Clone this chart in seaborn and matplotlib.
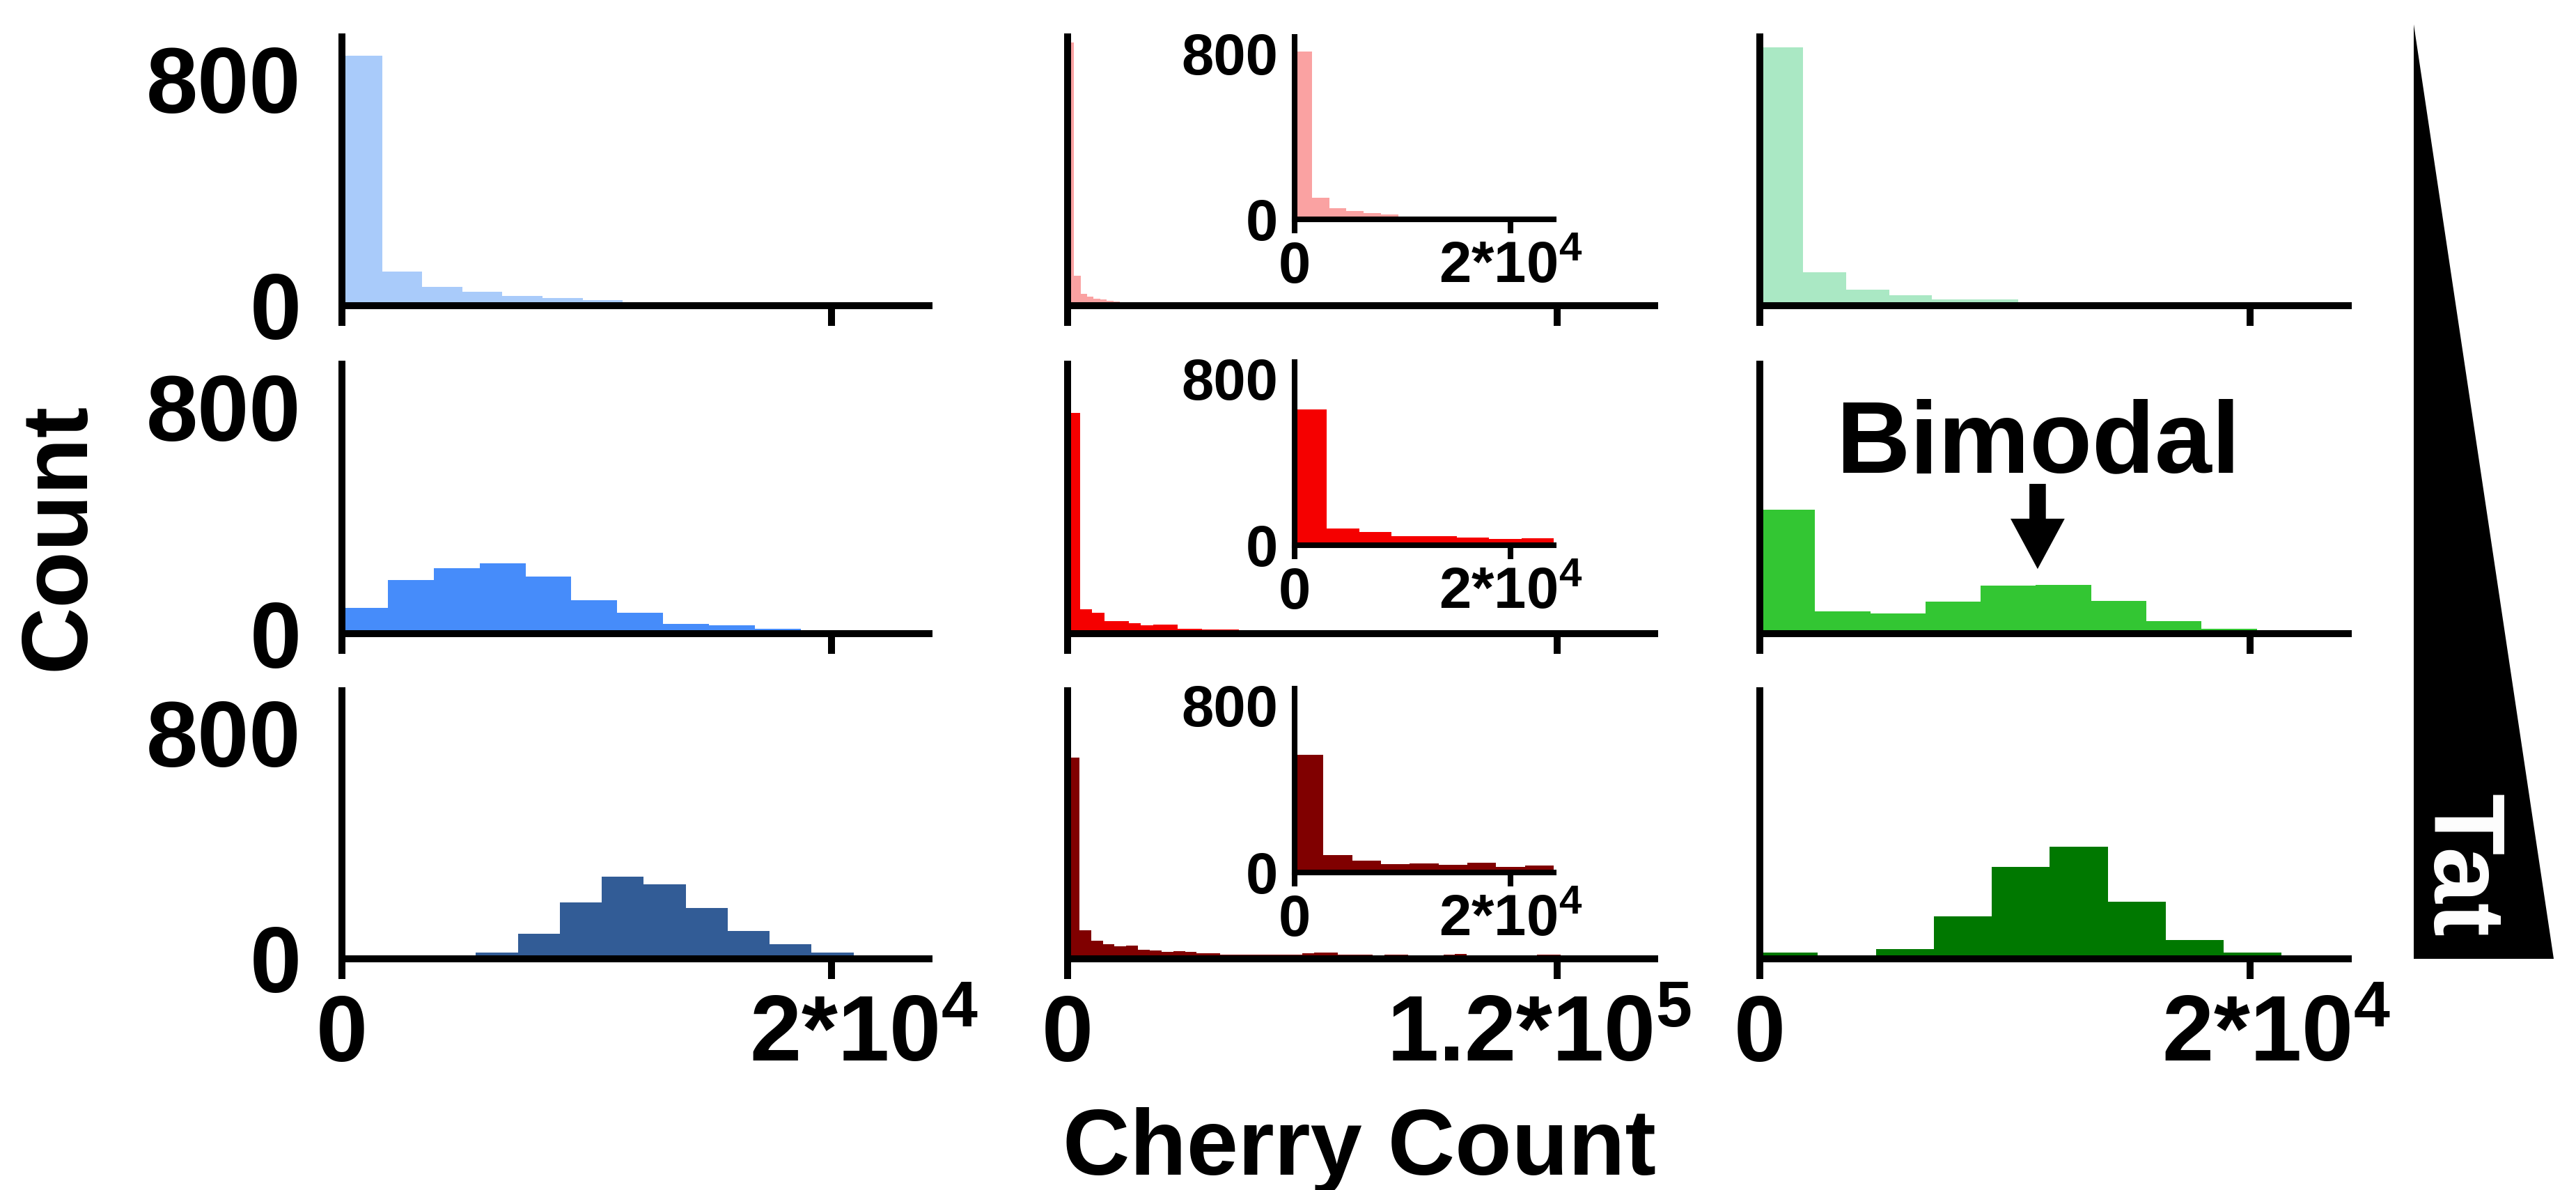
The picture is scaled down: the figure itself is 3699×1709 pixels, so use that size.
import numpy as np
import pandas as pd
import matplotlib
matplotlib.use("Agg")
import matplotlib.pyplot as plt
import seaborn as sns
from matplotlib.patches import Polygon
from matplotlib.transforms import ScaledTranslation

# ---------------- histogram data (counts per bin) ----------------
# column 1: blue series, rows go from low to high Tat
blue_counts = [
    [883, 120, 66, 49, 34, 27, 19, 12, 7, 4],
    [92, 188, 231, 247, 202, 119, 74, 35, 29, 18],
    [22, 88, 200, 291, 263, 180, 99, 51, 22],
]
blue_bin_start = [0, 0, 5480]
blue_bin_width = [1640, 1876, 1715]

# column 2: red series (full range)
red_counts = [
    [930, 105, 42, 33, 25, 22, 18, 15, 12, 9, 7, 5, 4, 3, 2],
    [778, 86, 74, 45, 43, 37, 29, 33, 33, 18, 18, 15, 15, 15, 12, 12, 10, 10,
     9, 8, 8, 7, 6, 5, 5, 4, 4, 3, 3, 2, 2],
    [712, 100, 63, 51, 44, 47, 32, 30, 25, 28, 25, 20, 20, 16, 16, 15, 16, 15,
     16, 14, 20, 22, 21, 14, 15, 14, 13, 14, 14, 12, 12, 13, 16, 17, 12, 12,
     11, 11, 12, 11, 14, 15, 12, 11, 10, 11, 10, 9, 9],
]
red_bin_start = [0, 0, 0]
red_bin_width = [1600, 3000, 2880]

# column 2 insets: red series, low range
red_inset_counts = [
    [808, 104, 53, 39, 30, 22, 14, 9, 6, 4, 3, 2, 2, 1, 1],
    [652, 80, 65, 45, 42, 36, 31, 33],
    [564, 83, 58, 39, 44, 36, 47, 28, 33],
]
red_inset_bin_width = [1600, 3000, 2667]

# column 3: green series
green_counts = [
    [913, 119, 56, 38, 21, 21, 12, 6],
    [437, 78, 70, 113, 169, 173, 116, 45, 18, 10],
    [22, 10, 34, 150, 325, 398, 202, 67, 22, 6],
]
green_bin_start = [0, 0, 0]
green_bin_width = [1757, 2252, 2365]

blue_colors = ["#A9CBFA", "#468CFA", "#325C96"]
red_colors = ["#FAA2A2", "#F50000", "#800000"]
green_colors = ["#AAE8C4", "#33C633", "#007800"]

# axis ranges and tick labels
col_xmax = [24000, 144000, 24000]
col_xticks = [[0, 20000], [0, 120000], [0, 20000]]
col_xticklabels = [["0", r"$2{*}10^{4}$"], ["0", r"$1.2{*}10^{5}$"],
                   ["0", r"$2{*}10^{4}$"]]
main_ymax = 950
main_yticks = [0, 800]
main_yticklabels = ["0", "800"]
inset_xmax = 24000
inset_xticks = [0, 20000]
inset_xticklabels = ["0", r"$2{*}10^{4}$"]
inset_ymax = 880
inset_yticks = [0, 800]
inset_yticklabels = ["0", "800"]

bimodal_x, bimodal_y0, bimodal_y1 = 11330, 528, 228

# ---------------- styling ----------------
sns.set_style("ticks")
plt.rcParams["font.family"] = ["Liberation Sans", "DejaVu Sans"]
plt.rcParams["font.weight"] = "bold"
plt.rcParams["text.color"] = "black"
plt.rcParams["xtick.color"] = "black"
plt.rcParams["ytick.color"] = "black"
plt.rcParams["axes.labelcolor"] = "black"
plt.rcParams["mathtext.fontset"] = "custom"
plt.rcParams["mathtext.rm"] = "Liberation Sans:bold"
plt.rcParams["mathtext.bf"] = "Liberation Sans:bold"
plt.rcParams["mathtext.it"] = "Liberation Sans:bold"
plt.rcParams["mathtext.default"] = "bf"

W, H = 3699, 1709
fig = plt.figure(figsize=(W / 100, H / 100), dpi=100)
fig.patch.set_facecolor("white")


def box(x0, y_top, x1, y_bot):
    return [x0 / W, 1 - y_bot / H, (x1 - x0) / W, (y_bot - y_top) / H]


col_x = [(491, 1334), (1533, 2376), (2527, 3372)]
row_y = [(53, 439), (523, 910), (992, 1377)]
inset_x = (1859, 2231)
inset_y = [(53, 315), (520, 783), (989, 1253)]

BIG = 96
SMALL = 60


def draw_hist(ax, counts, start, width, color):
    edges = start + width * np.arange(len(counts) + 1)
    centers = edges[:-1] + width / 2.0
    df = pd.DataFrame({"value": centers, "n": counts})
    sns.histplot(data=df, x="value", weights="n", bins=edges.tolist(),
                 stat="count", color=color, alpha=1, linewidth=0,
                 edgecolor=color, element="bars", ax=ax)


def style_axes(ax, xmax, ymax, lw, tick_len, xt, xtl, show_xlab, yt, ytl,
               show_ylab, fs, xpad, ypad):
    ax.set_xlim(0, xmax)
    ax.set_ylim(0, ymax)
    ax.set_xlabel("")
    ax.set_ylabel("")
    ax.set_facecolor("none")
    for s in ["top", "right"]:
        ax.spines[s].set_visible(False)
    for s in ["left", "bottom"]:
        ax.spines[s].set_linewidth(lw)
        ax.spines[s].set_color("black")
    ax.set_xticks(xt, xtl if show_xlab else ["" for _ in xt])
    ax.set_yticks(yt, ytl if show_ylab else ["" for _ in yt])
    ax.tick_params(axis="x", direction="out", length=tick_len, width=lw,
                   color="black", labelcolor="black", labelsize=fs, pad=xpad)
    ax.tick_params(axis="y", length=0, labelcolor="black", labelsize=fs,
                   pad=ypad)
    for lab in ax.get_xticklabels() + ax.get_yticklabels():
        lab.set_fontweight("bold")


def shift_xlabels(ax, shifts_pt):
    for tick, dx in zip(ax.xaxis.get_major_ticks(), shifts_pt):
        lab = tick.label1
        lab.set_transform(lab.get_transform() +
                          ScaledTranslation(dx / 72.0, 0, fig.dpi_scale_trans))


series = [
    (blue_counts, blue_bin_start, blue_bin_width, blue_colors),
    (red_counts, red_bin_start, red_bin_width, red_colors),
    (green_counts, green_bin_start, green_bin_width, green_colors),
]
label_shift = [[0, 34], [0, -18], [0, 27]]

axes = {}
for c, (counts, starts, widths, colors) in enumerate(series):
    for r in range(3):
        ax = fig.add_axes(box(col_x[c][0], row_y[r][0], col_x[c][1], row_y[r][1]))
        draw_hist(ax, counts[r], starts[r], widths[r], colors[r])
        style_axes(ax, col_xmax[c], main_ymax, 7.2, 21, col_xticks[c],
                   col_xticklabels[c], r == 2, main_yticks, main_yticklabels,
                   c == 0, BIG, 15, 42)
        if r == 2:
            shift_xlabels(ax, label_shift[c])
        axes[(r, c)] = ax

# insets in the middle column
for r in range(3):
    ax = fig.add_axes(box(inset_x[0], inset_y[r][0], inset_x[1], inset_y[r][1]))
    draw_hist(ax, red_inset_counts[r], 0, red_inset_bin_width[r], red_colors[r])
    style_axes(ax, inset_xmax, inset_ymax, 5.8, 14.4, inset_xticks,
               inset_xticklabels, True, inset_yticks, inset_yticklabels, True,
               SMALL, 7, 17)

# bimodal annotation
ax_b = axes[(1, 2)]
ax_b.annotate("", xy=(bimodal_x, bimodal_y1), xytext=(bimodal_x, bimodal_y0),
              arrowprops=dict(arrowstyle="simple,head_length=0.52,head_width=0.56,tail_width=0.17",
                              mutation_scale=100, color="black", lw=0,
                              shrinkA=0, shrinkB=0))
fig.text(2927 / W, 1 - 678 / H, "Bimodal", ha="center", va="baseline",
         fontsize=106, fontweight="bold", color="black")

# shared axis titles
fig.text(86 / W, 1 - 770 / H, "Count", rotation=90, ha="center", va="center",
         fontsize=BIG, fontweight="bold", color="black")
fig.text(1952 / W, 1 - 1687 / H, "Cherry Count", ha="center", va="baseline",
         fontsize=BIG, fontweight="bold", color="black")

# Tat gradient wedge
wedge = Polygon([(3466 / W, 1 - 35 / H), (3466 / W, 1 - 1377 / H),
                 (3667 / W, 1 - 1377 / H)], closed=True, facecolor="black",
                edgecolor="none", transform=fig.transFigure)
fig.add_artist(wedge)
fig.text(3531 / W, 1 - 1243 / H, "Tat", rotation=270, ha="center",
         va="center", color="white", fontsize=104, fontweight="bold")

fig.savefig("out.png", dpi=100, facecolor="white")
